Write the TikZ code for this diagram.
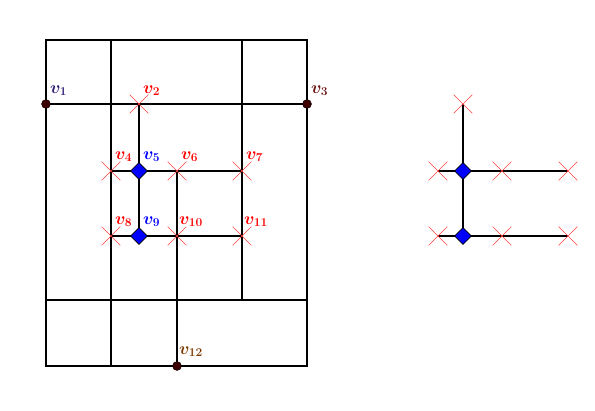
\documentclass[tikz,border=0pt]{standalone}
\usetikzlibrary{shapes.misc,shapes.geometric}
\definecolor{dotc}{RGB}{60,0,0}
\definecolor{lblA}{RGB}{50,30,120}
\definecolor{lblB}{RGB}{110,20,20}
\definecolor{lblC}{RGB}{130,60,0}
\tikzset{
  edge/.style={line width=1.5pt, black},
  dot/.style={circle, fill=dotc, draw=black, line width=0.4pt, inner sep=0pt, minimum size=9pt},
  xmark/.style={cross out, draw=red!75, line width=0.6pt, inner sep=0pt, minimum size=18pt},
  dmd/.style={diamond, fill=blue, draw=black, line width=0.6pt, inner sep=0pt, minimum size=17pt},
  lbl/.style={anchor=south west, inner sep=0pt, font=\LARGE\boldmath}
}
\begin{document}
\begin{tikzpicture}[x=1pt,y=-1pt]
\useasboundingbox (0,0) rectangle (595,411);
% frame
\coordinate (tl) at (46,40);
\coordinate (tr) at (307,40);
\coordinate (bl) at (46,366);
\coordinate (br) at (307,366);
\coordinate (a1) at (111,40);
\coordinate (a2) at (111,366);
\coordinate (b1) at (242,40);
\coordinate (b2) at (242,300);
\coordinate (c1) at (46,300);
\coordinate (c2) at (307,300);
\draw[edge] (tl) rectangle (br);
\draw[edge] (a1) -- (a2);
\draw[edge] (b1) -- (b2);
\draw[edge] (c1) -- (c2);
% nodes positions
\coordinate (p1) at (46,104);
\coordinate (p2) at (139,104);
\coordinate (p3) at (307,104);
\coordinate (p4) at (111,171);
\coordinate (p5) at (139,171);
\coordinate (p6) at (177,171);
\coordinate (p7) at (242,171);
\coordinate (p8) at (111,236);
\coordinate (p9) at (139,236);
\coordinate (p10) at (177,236);
\coordinate (p11) at (242,236);
\coordinate (p12) at (177,366);
\draw[edge] (p1) -- (p3);
\draw[edge] (p2) -- (p9);
\draw[edge] (p6) -- (p12);
\draw[edge] (p4) -- (p7);
\draw[edge] (p8) -- (p11);
\node[dot] (v1) at (p1) {};
\node[dot] (v3) at (p3) {};
\node[dot] (v12) at (p12) {};
\foreach \i in {2,4,6,7,8,10,11} \node[xmark] (v\i) at (p\i) {};
\node[dmd] (v5) at (p5) {};
\node[dmd] (v9) at (p9) {};
\node[lbl, text=lblA] (l1) at (50,96) {$v_1$};
\node[lbl, text=red] (l2) at (143,96) {$v_2$};
\node[lbl, text=lblB] (l3) at (311,96) {$v_3$};
\node[lbl, text=red] (l4) at (115,162) {$v_4$};
\node[lbl, text=blue] (l5) at (143,162) {$v_5$};
\node[lbl, text=red] (l6) at (181,162) {$v_6$};
\node[lbl, text=red] (l7) at (246,162) {$v_7$};
\node[lbl, text=red] (l8) at (115,227) {$v_8$};
\node[lbl, text=blue] (l9) at (143,227) {$v_9$};
\node[lbl, text=red] (l10) at (179,227) {$v_{10}$};
\node[lbl, text=red] (l11) at (244,227) {$v_{11}$};
\node[lbl, text=lblC] (l12) at (179,357) {$v_{12}$};
% right figure
\coordinate (q0) at (463,104);
\coordinate (q1) at (463,171);
\coordinate (q2) at (463,236);
\coordinate (r1a) at (438,171);
\coordinate (r1b) at (502,171);
\coordinate (r1c) at (568,171);
\coordinate (r2a) at (438,236);
\coordinate (r2b) at (502,236);
\coordinate (r2c) at (568,236);
\draw[edge] (q0) -- (q2);
\draw[edge] (r1a) -- (r1c);
\draw[edge] (r2a) -- (r2c);
\foreach \n in {q0,r1a,r1b,r1c,r2a,r2b,r2c} \node[xmark] (x\n) at (\n) {};
\node[dmd] (w1) at (q1) {};
\node[dmd] (w2) at (q2) {};
\end{tikzpicture}
\end{document}
